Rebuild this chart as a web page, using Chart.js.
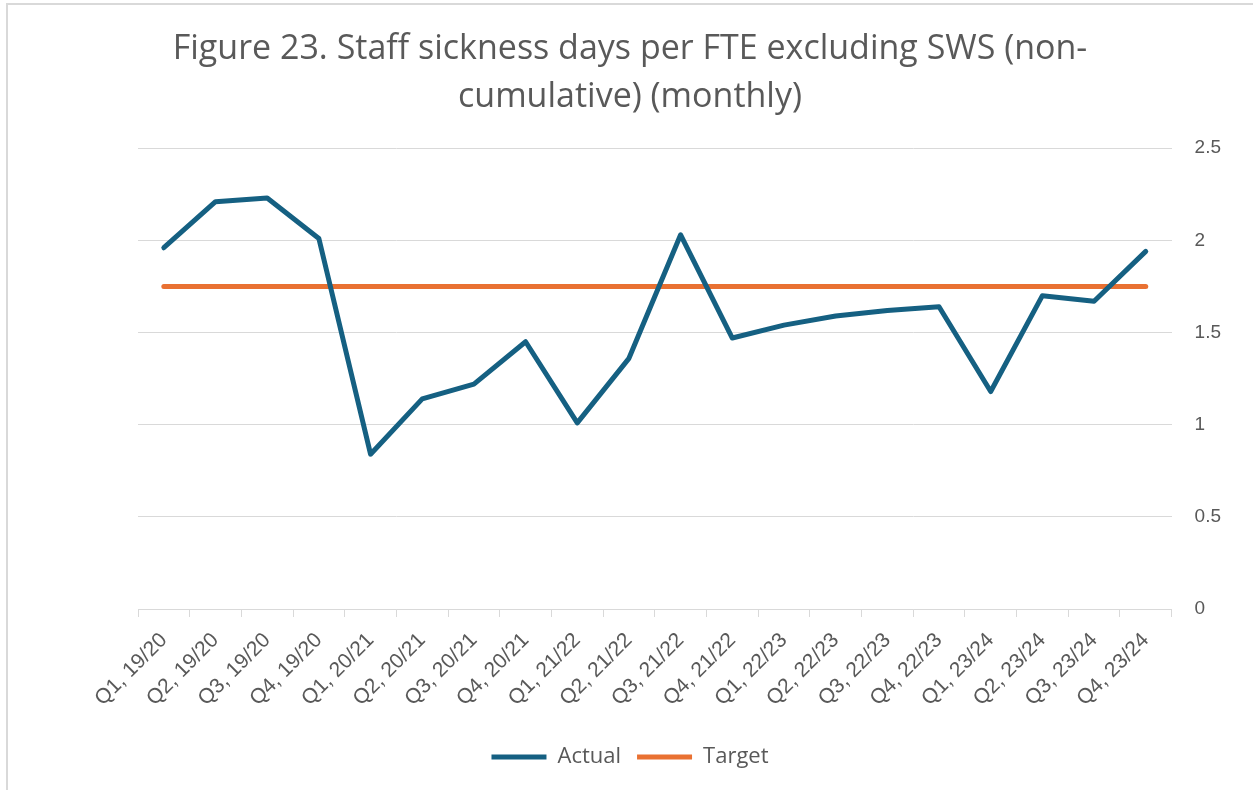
<!DOCTYPE html>
<html>
<head>
<meta charset="utf-8">
<script src="https://cdn.jsdelivr.net/npm/chart.js@4.4.1/dist/chart.umd.min.js"></script>
<style>
  html, body { margin: 0; padding: 0; background: #fff; }
  #frame {
    position: absolute; left: 6px; top: 3px; width: 1260px; height: 800px;
    border-left: 2px solid #d9d9d9; border-top: 2px solid #d9d9d9;
  }
  #wrap { position: absolute; left: 0; top: 0; width: 1253px; height: 790px; }
</style>
</head>
<body>
<div id="frame"></div>
<div id="wrap"><canvas id="chart"></canvas></div>
<script>
const quarters = [
  'Q1, 19/20', 'Q2, 19/20', 'Q3, 19/20', 'Q4, 19/20',
  'Q1, 20/21', 'Q2, 20/21', 'Q3, 20/21', 'Q4, 20/21',
  'Q1, 21/22', 'Q2, 21/22', 'Q3, 21/22', 'Q4, 21/22',
  'Q1, 22/23', 'Q2, 22/23', 'Q3, 22/23', 'Q4, 22/23',
  'Q1, 23/24', 'Q2, 23/24', 'Q3, 23/24', 'Q4, 23/24'
];
const actual = [
  1.96, 2.21, 2.23, 2.01,
  0.84, 1.14, 1.22, 1.45,
  1.01, 1.36, 2.03, 1.47,
  1.54, 1.59, 1.62, 1.64,
  1.18, 1.70, 1.67, 1.94
];
const target = quarters.map(() => 1.75);

const grey = '#595959';
const gridColor = '#d9d9d9';

const data = {
  labels: quarters,
  datasets: [
    {
      label: 'Actual',
      data: actual,
      borderColor: '#156082',
      backgroundColor: '#156082',
      borderWidth: 5,
      borderCapStyle: 'round',
      borderJoinStyle: 'round',
      pointRadius: 0,
      pointStyle: 'line',
      tension: 0,
    },
    {
      label: 'Target',
      data: target,
      borderColor: '#e97132',
      backgroundColor: '#e97132',
      borderWidth: 5,
      borderCapStyle: 'round',
      pointRadius: 0,
      pointStyle: 'line',
      tension: 0,
    },
  ],
};

const config = {
  type: 'line',
  data,
  options: {
    responsive: true,
    maintainAspectRatio: false,
    animation: false,
    layout: {
      padding: { top: 26, bottom: 12, left: 16, right: 9 },
    },
    plugins: {
      title: {
        display: true,
        text: ['Figure 23. Staff sickness days per FTE excluding SWS (non-', 'cumulative) (monthly)'],
        color: grey,
        font: { family: '"Open Sans", sans-serif', size: 34, weight: 'normal', lineHeight: 1.4 },
        padding: { top: 0, bottom: 27 },
      },
      legend: {
        position: 'bottom',
        labels: {
          usePointStyle: true,
          pointStyleWidth: 55,
          color: grey,
          font: { family: '"Open Sans", sans-serif', size: 22 },
          padding: 16,
        },
      },
      tooltip: { enabled: false },
    },
    scales: {
      x: {
        offset: true,
        border: { display: true, color: gridColor, width: 1 },
        grid: {
          offset: true,
          drawOnChartArea: false,
          drawTicks: true,
          tickLength: 8,
          color: gridColor,
        },
        ticks: {
          minRotation: 45,
          maxRotation: 45,
          autoSkip: false,
          padding: 11,
          color: grey,
          font: { family: '"Liberation Sans", Arial, sans-serif', size: 21 },
        },
        afterFit: (scale) => { scale.height = 121; },
      },
      y: {
        position: 'right',
        min: 0,
        max: 2.5,
        border: { display: false },
        grid: { color: gridColor, lineWidth: 1, drawTicks: false },
        ticks: {
          stepSize: 0.5,
          padding: 23,
          color: grey,
          font: { family: '"Liberation Sans", Arial, sans-serif', size: 19 },
          callback: (value) => String(value),
        },
      },
      // empty left spacer so the plot starts where the original does
      spacer: {
        type: 'linear',
        position: 'left',
        display: true,
        border: { display: false },
        grid: { display: false },
        ticks: { display: false },
        afterFit: (scale) => { scale.width = 122; },
      },
    },
  },
};

new Chart(document.getElementById('chart'), config);
</script>
</body>
</html>
